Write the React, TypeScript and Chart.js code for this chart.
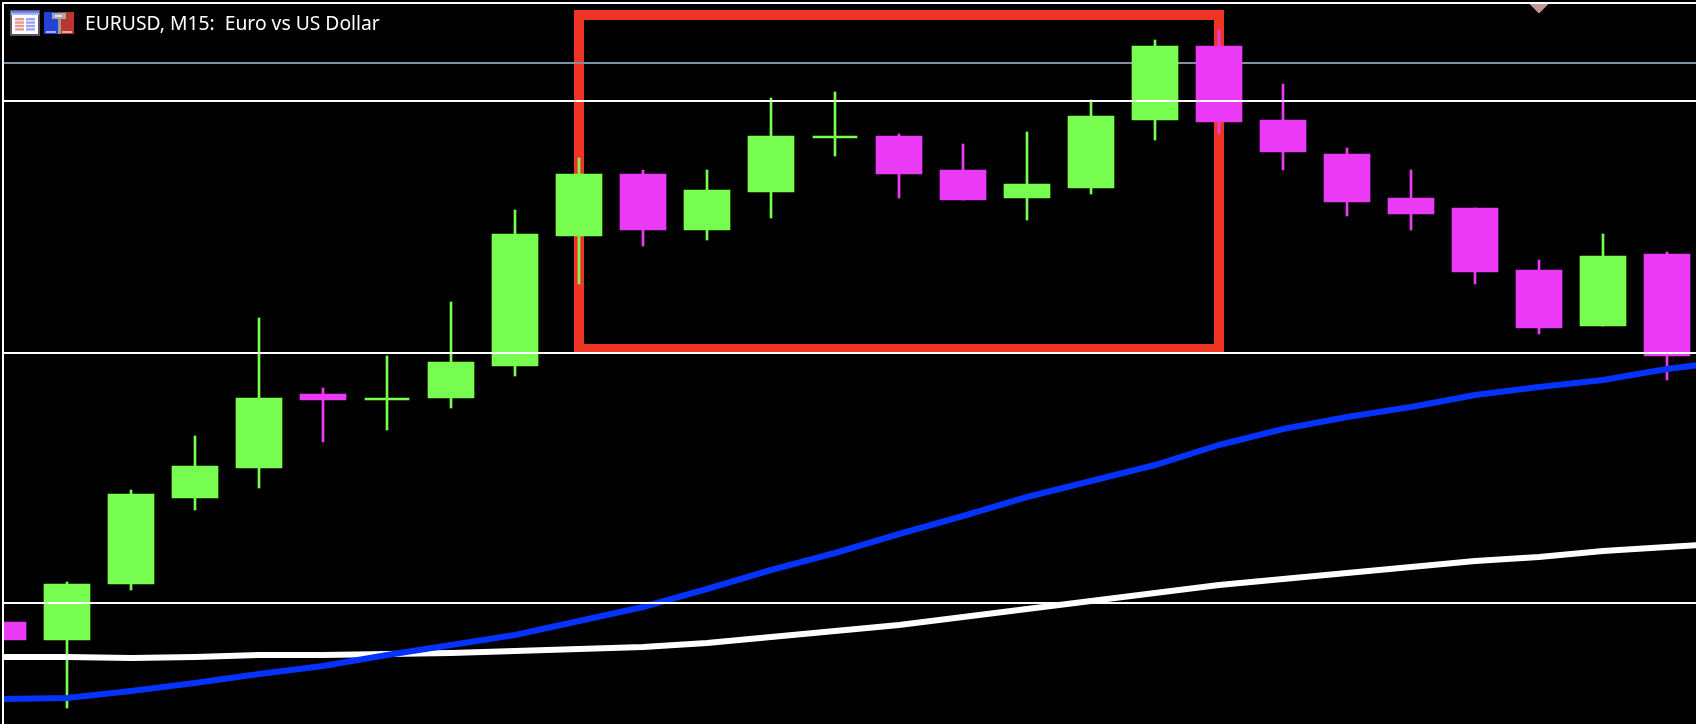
import React, { useEffect, useRef } from "react";
import { Chart, registerables } from "chart.js";

Chart.register(...registerables);

// EURUSD M15 candles, index 0..26
const opens = [1.08051,1.08042,1.08070,1.08113,1.08128,1.08165,1.08162,1.08163,1.08179,1.08244,1.08275,1.08247,1.08266,1.08293,1.08294,1.08277,1.08263,1.08268,1.08302,1.08339,1.08302,1.08285,1.08263,1.08258,1.08227,1.08199,1.08235];
const closes = [1.08042,1.08070,1.08115,1.08129,1.08163,1.08162,1.08163,1.08181,1.08245,1.08275,1.08247,1.08267,1.08294,1.08294,1.08275,1.08262,1.08270,1.08304,1.08339,1.08301,1.08286,1.08261,1.08255,1.08226,1.08198,1.08234,1.08184];
const highs = [1.08051,1.08071,1.08117,1.08144,1.08203,1.08168,1.08184,1.08211,1.08257,1.08283,1.08277,1.08277,1.08313,1.08316,1.08295,1.08290,1.08296,1.08312,1.08342,1.08347,1.08320,1.08288,1.08277,1.08258,1.08232,1.08245,1.08236];
const lows = [1.08042,1.08008,1.08067,1.08107,1.08118,1.08141,1.08147,1.08158,1.08174,1.08220,1.08239,1.08242,1.08253,1.08284,1.08263,1.08262,1.08252,1.08265,1.08292,1.08295,1.08277,1.08254,1.08247,1.08220,1.08195,1.08199,1.08172];
const upFlags = [0,1,1,1,1,0,1,1,1,1,0,1,1,1,0,0,1,1,1,0,0,0,0,0,0,1,0];

const maFast = [1.080125,1.08013,1.080165,1.080205,1.08025,1.08029,1.080345,1.080395,1.080445,1.080515,1.080585,1.080675,1.08077,1.080855,1.08095,1.08104,1.081135,1.081215,1.081295,1.081395,1.081475,1.081535,1.081585,1.081645,1.081685,1.08172,1.081775,1.081815];
const maSlow = [1.080335,1.080335,1.08033,1.080335,1.080345,1.080345,1.08035,1.080355,1.080365,1.080375,1.080385,1.080405,1.080435,1.080465,1.080495,1.080535,1.080575,1.080615,1.080655,1.080695,1.080725,1.080755,1.080785,1.080815,1.080835,1.080865,1.080885,1.080905];

const levelsWhite = [1.083115, 1.081855, 1.080605];
const levelGray = 1.083305;
const frameTop = 1.083605;
const boxStart = 9;
const boxEnd = 19;
const boxTop = 1.083545;
const boxBottom = 1.08188;
const markerIndex = 24;
const markerPrice = 1.0836;
const titleText = "EURUSD, M15:  Euro vs US Dollar";

const GREEN = "#78FE50";
const MAGENTA = "#EB3AF5";
const BLUE = "#0433FF";
const RED = "#EE3524";
const GRAY = "#7F8F9F";
const WHITE = "#FFFFFF";
const LAST_X = 27;
const DOJI = 0.000011;

const seg = (label: string, pts: number[][], color: string, width: number, order: number, cap = "butt") => ({
  type: "line" as const,
  label,
  data: pts.map(([x, y]) => ({ x, y })),
  borderColor: color,
  borderWidth: width,
  borderCapStyle: cap,
  pointRadius: 0,
  tension: 0,
  order,
});

const hudPlugin = {
  id: "hud",
  beforeDraw(chart: any) {
    const c = chart.ctx;
    c.save();
    c.fillStyle = "#000";
    c.fillRect(0, 0, chart.width, chart.height);
    c.restore();
  },
  afterDraw(chart: any) {
    const c = chart.ctx;
    c.save();
    const r = (x: number, y: number, w: number, h: number, col: string) => {
      c.fillStyle = col;
      c.fillRect(x, y, w, h);
    };
    // table icon
    r(10, 10, 30, 26, "#555566");
    r(11, 11, 28, 4, "#6F7FF2");
    r(11, 13, 28, 2, "#A9B2FA");
    r(12, 15, 26, 19, "#FFFFFF");
    for (let i = 0; i < 4; i++) {
      r(15, 18 + i * 3.4, 9, 2.4, "#E79A8E");
      r(26, 18 + i * 3.4, 9, 2.4, "#9AA5F5");
    }
    // floppy icon
    r(44, 12, 15, 22, "#2443D6");
    r(59, 12, 15, 22, "#B8362E");
    r(52, 13, 14, 6, "#A8A8A8");
    r(55, 15, 7, 2, "#E4E4E4");
    r(58, 19, 3, 15, "#9A9A9A");
    r(46, 31, 10, 2, "#9DB0F5");
    r(62, 31, 10, 2, "#E8A79F");
    // chart caption
    c.fillStyle = "#FFFFFF";
    c.font = '19.3px "Noto Sans"';
    c.textBaseline = "alphabetic";
    c.textAlign = "left";
    c.fillText(titleText, 85, 30);
    c.restore();
  },
};

export default function App() {
  const ref = useRef<HTMLCanvasElement | null>(null);

  useEffect(() => {
    document.body.style.margin = "0";
    document.body.style.background = "#000";
    const idx = opens.map((_, i) => i);
    const colorOf = (i: number) => (upFlags[i] ? GREEN : MAGENTA);
    const isDoji = (i: number) => Math.abs(opens[i] - closes[i]) < DOJI;
    const bodyIdx = idx.filter((i) => !isDoji(i));
    const dojiIdx = idx.filter((i) => isDoji(i));

    const bars = (label: string, ids: number[], lo: number[], hi: number[], thick: number, order: number) => ({
      type: "bar" as const,
      label,
      data: ids.map((i) => ({ x: i, y: [lo[i], hi[i]] })),
      backgroundColor: ids.map(colorOf),
      borderWidth: 0,
      barThickness: thick,
      grouped: false,
      clip: { left: -2, top: 0, right: 0, bottom: 0 },
      order,
    });

    const chart = new Chart(ref.current as HTMLCanvasElement, {
      type: "bar",
      plugins: [hudPlugin],
      data: {
        datasets: [
          {
            type: "scatter" as const,
            label: "marker",
            data: [{ x: markerIndex, y: markerPrice }],
            pointStyle: "rectRot",
            pointRadius: 9.5,
            pointBorderWidth: 0,
            pointBackgroundColor: "#BF9A98",
            clip: { left: 0, top: -4, right: 0, bottom: 0 },
            order: 0,
          },
          seg("frame top", [[0, frameTop], [LAST_X, frameTop]], WHITE, 2, 1, "square"),
          seg("frame left", [[0, frameTop], [0, 1.08]], WHITE, 2, 1),
          ...levelsWhite.map((v, i) => seg(`level ${i}`, [[0, v], [LAST_X, v]], WHITE, 2, 2)),
          seg("MA fast", maFast.map((v, i) => [i, v]), BLUE, 6, 3),
          seg("MA slow", maSlow.map((v, i) => [i, v]), WHITE, 6, 4),
          bars("doji", dojiIdx, opens.map((o, i) => Math.min(o, closes[i])), opens.map((o, i) => Math.max(o, closes[i])), 44, 5),
          bars("bodies", bodyIdx, opens, closes, 46, 5),
          bars("wicks", idx, lows, highs, 2, 6),
          seg("level gray", [[0, levelGray], [LAST_X, levelGray]], GRAY, 2, 7),
          seg("box top", [[boxStart, boxTop], [boxEnd, boxTop]], RED, 10, 8, "square"),
          seg("box left", [[boxStart, boxTop], [boxStart, boxBottom]], RED, 10, 8, "square"),
          seg("box right", [[boxEnd, boxTop], [boxEnd, boxBottom]], RED, 10, 8, "square"),
          seg("box bottom", [[boxStart, boxBottom], [boxEnd, boxBottom]], RED, 8, 8),
        ] as any,
      },
      options: {
        animation: false,
        responsive: false,
        devicePixelRatio: 1,
        layout: { padding: 0, autoPadding: false },
        plugins: { legend: { display: false }, tooltip: { enabled: false }, title: { display: false } },
        scales: {
          x: { type: "linear", display: false, offset: false, bounds: "data", min: -3 / 64, max: 1693 / 64, grid: { display: false } },
          y: { type: "linear", display: false, bounds: "data", min: 1.08, max: 1.08362, grid: { display: false } },
        },
      } as any,
    });
    return () => chart.destroy();
  }, []);

  return (
    <canvas
      ref={ref}
      width={1696}
      height={724}
      style={{ position: "fixed", left: 0, top: 0, width: 1696, height: 724, display: "block", background: "#000" }}
    />
  );
}
